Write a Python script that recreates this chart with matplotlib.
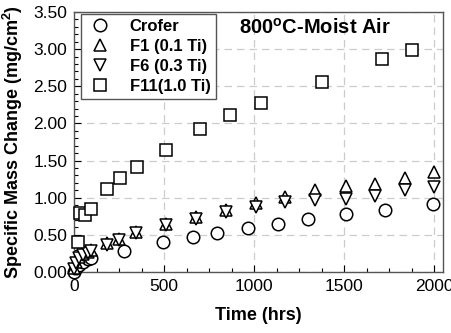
import matplotlib
matplotlib.use("Agg")
import matplotlib.pyplot as plt
from matplotlib.ticker import MultipleLocator, FormatStrFormatter

plt.rcParams['font.family'] = ['Liberation Sans', 'DejaVu Sans']
plt.rcParams['mathtext.fontset'] = 'custom'
plt.rcParams['mathtext.rm'] = 'Liberation Sans'
plt.rcParams['mathtext.bf'] = 'Liberation Sans:bold'

# Crofer
crofer_t = [0, 10, 25, 50, 75, 95, 276, 494, 658, 794, 967, 1133, 1300, 1509, 1730, 1994]
crofer_y = [0.00, 0.05, 0.10, 0.14, 0.17, 0.19, 0.29, 0.41, 0.47, 0.53, 0.59, 0.65, 0.71, 0.78, 0.84, 0.91]
# F1 (0.1 Ti)
f1_t = [0, 10, 25, 50, 75, 95, 180, 250, 343, 508, 676, 843, 1009, 1174, 1341, 1508, 1671, 1837, 2000]
f1_y = [0.05, 0.13, 0.20, 0.24, 0.27, 0.30, 0.39, 0.45, 0.54, 0.65, 0.74, 0.83, 0.93, 1.01, 1.10, 1.16, 1.18, 1.27, 1.34]
# F6 (0.3 Ti)
f6_t = [0, 10, 25, 50, 75, 95, 180, 250, 343, 508, 676, 843, 1009, 1174, 1341, 1508, 1671, 1837, 2000]
f6_y = [0.04, 0.12, 0.19, 0.23, 0.26, 0.28, 0.37, 0.43, 0.52, 0.63, 0.72, 0.81, 0.87, 0.94, 0.97, 0.98, 1.02, 1.10, 1.14]
# F11 (1.0 Ti)
f11_t = [22, 35, 60, 91, 183, 254, 347, 513, 702, 865, 1041, 1376, 1708, 1876]
f11_y = [0.40, 0.79, 0.77, 0.85, 1.12, 1.26, 1.41, 1.64, 1.93, 2.12, 2.27, 2.56, 2.87, 2.99]

fig = plt.figure(figsize=(4.52, 3.33), dpi=100)
ax = fig.add_axes([0.164, 0.183, 0.815, 0.781])

ms = 9
kw = dict(linestyle='none', markerfacecolor='white', markeredgecolor='black',
          markeredgewidth=1.1, clip_on=False)
ax.plot(crofer_t, crofer_y, marker='o', markersize=ms, label='Crofer', zorder=3, **kw)
ax.plot(f1_t, f1_y, marker='^', markersize=ms, label='F1 (0.1 Ti)', zorder=4, **kw)
ax.plot(f6_t, f6_y, marker='v', markersize=ms, label='F6 (0.3 Ti)', zorder=4, **kw)
ax.plot(f11_t, f11_y, marker='s', markersize=8.5, label='F11(1.0 Ti)', zorder=5, **kw)

ax.set_xlim(0, 2047)
ax.set_ylim(0, 3.5)
ax.xaxis.set_major_locator(MultipleLocator(500))
ax.xaxis.set_minor_locator(MultipleLocator(125))
ax.yaxis.set_major_locator(MultipleLocator(0.5))
ax.yaxis.set_minor_locator(MultipleLocator(0.1))
ax.yaxis.set_major_formatter(FormatStrFormatter('%.2f'))
ax.tick_params(which='both', direction='in', labelsize=12.5, pad=5)
ax.tick_params(which='major', length=5, width=0.8)
ax.tick_params(which='minor', length=3, width=0.8)
ax.grid(True, which='major', linestyle=(0, (6, 4)), color='#cccccc', linewidth=0.9)
ax.set_axisbelow(True)
for s in ax.spines.values():
    s.set_color('#555555')
    s.set_linewidth(1.0)

ax.set_xlabel('Time (hrs)', fontsize=13, fontweight='bold', labelpad=9)
ax.set_ylabel('Specific Mass Change (mg/cm$^{\\mathbf{2}}$)', fontsize=13, fontweight='bold', labelpad=6)

ax.text(0.655, 0.94, '800$^{\\mathregular{o}}$C-Moist Air', transform=ax.transAxes,
        fontsize=14.5, fontweight='bold', ha='center', va='center')

leg = ax.legend(loc='upper left', bbox_to_anchor=(0.02, 0.992), frameon=True, fancybox=False,
                edgecolor='#555555', framealpha=1, prop={'weight': 'bold', 'size': 12},
                handletextpad=1.0, labelspacing=0.3, borderpad=0.3, handlelength=1.6,
                borderaxespad=0)
leg.get_frame().set_linewidth(1.0)

fig.savefig('out.png', dpi=100)
